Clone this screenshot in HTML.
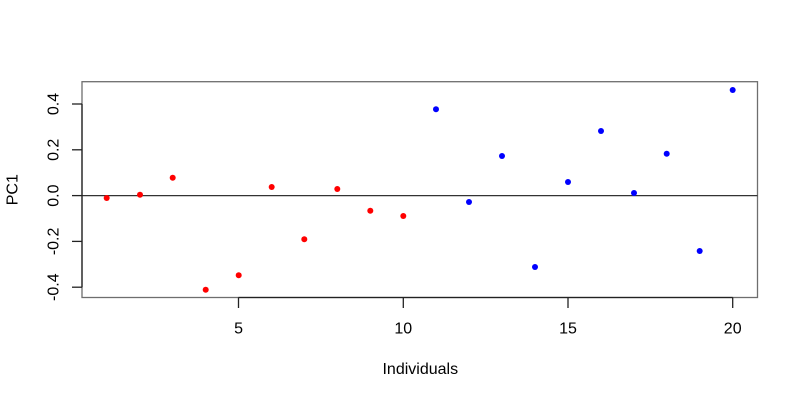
<!DOCTYPE html>
<html>
<head>
<meta charset="utf-8">
<style>
html,body{margin:0;padding:0;background:#fff;}
svg{display:block;}
text{font-family:"Liberation Sans",Arial,Helvetica,sans-serif;fill:#000;}
</style>
</head>
<body>
<svg width="800" height="400" viewBox="0 0 800 400" xmlns="http://www.w3.org/2000/svg">
<rect x="0" y="0" width="800" height="400" fill="#fff"/>
<!-- box -->
<rect x="82" y="81.7" width="675.5" height="215.8" fill="none" stroke="#6e6e6e" stroke-width="1.3"/>
<!-- zero line -->
<line x1="82" y1="195.6" x2="757.5" y2="195.6" stroke="#333" stroke-width="1.2"/>
<!-- x axis -->
<g stroke="#222" stroke-width="1.3">
<line x1="238.5" y1="297.5" x2="732.7" y2="297.5"/>
<line x1="238.5" y1="297.5" x2="238.5" y2="308"/>
<line x1="403.3" y1="297.5" x2="403.3" y2="308"/>
<line x1="568" y1="297.5" x2="568" y2="308"/>
<line x1="732.7" y1="297.5" x2="732.7" y2="308"/>
</g>
<g font-size="16" text-anchor="middle">
<text x="238.6" y="333.5">5</text>
<text x="403.3" y="333.5">10</text>
<text x="568" y="333.5">15</text>
<text x="732.7" y="333.5">20</text>
<text x="420.3" y="374">Individuals</text>
</g>
<!-- y axis -->
<g stroke="#222" stroke-width="1.3">
<line x1="82" y1="104" x2="82" y2="287.2"/>
<line x1="72" y1="104" x2="82" y2="104"/>
<line x1="72" y1="149.8" x2="82" y2="149.8"/>
<line x1="72" y1="195.6" x2="82" y2="195.6"/>
<line x1="72" y1="241.4" x2="82" y2="241.4"/>
<line x1="72" y1="287.2" x2="82" y2="287.2"/>
</g>
<g font-size="16" text-anchor="middle">
<text transform="translate(58.5,104) rotate(-90)">0.4</text>
<text transform="translate(58.5,149.8) rotate(-90)">0.2</text>
<text transform="translate(58.5,195.6) rotate(-90)">0.0</text>
<text transform="translate(58.5,241.4) rotate(-90)">-0.2</text>
<text transform="translate(58.5,287.2) rotate(-90)">-0.4</text>
<text transform="translate(17.5,189.7) rotate(-90)">PC1</text>
</g>
<!-- points -->
<g fill="#ff0000">
<circle cx="106.7" cy="198" r="3"/>
<circle cx="140" cy="194.7" r="3"/>
<circle cx="172.7" cy="177.7" r="3"/>
<circle cx="205.7" cy="289.7" r="3"/>
<circle cx="238.7" cy="275.3" r="3"/>
<circle cx="271.7" cy="187" r="3"/>
<circle cx="304.3" cy="239.3" r="3"/>
<circle cx="337.3" cy="189" r="3"/>
<circle cx="370.3" cy="210.7" r="3"/>
<circle cx="403.3" cy="216" r="3"/>
</g>
<g fill="#0000ff">
<circle cx="436" cy="109.3" r="3"/>
<circle cx="469" cy="202" r="3"/>
<circle cx="502" cy="156" r="3"/>
<circle cx="535" cy="267" r="3"/>
<circle cx="568" cy="182" r="3"/>
<circle cx="601" cy="131" r="3"/>
<circle cx="634" cy="193" r="3"/>
<circle cx="666.7" cy="153.7" r="3"/>
<circle cx="699.7" cy="251" r="3"/>
<circle cx="732.7" cy="90" r="3"/>
</g>
</svg>
</body>
</html>
